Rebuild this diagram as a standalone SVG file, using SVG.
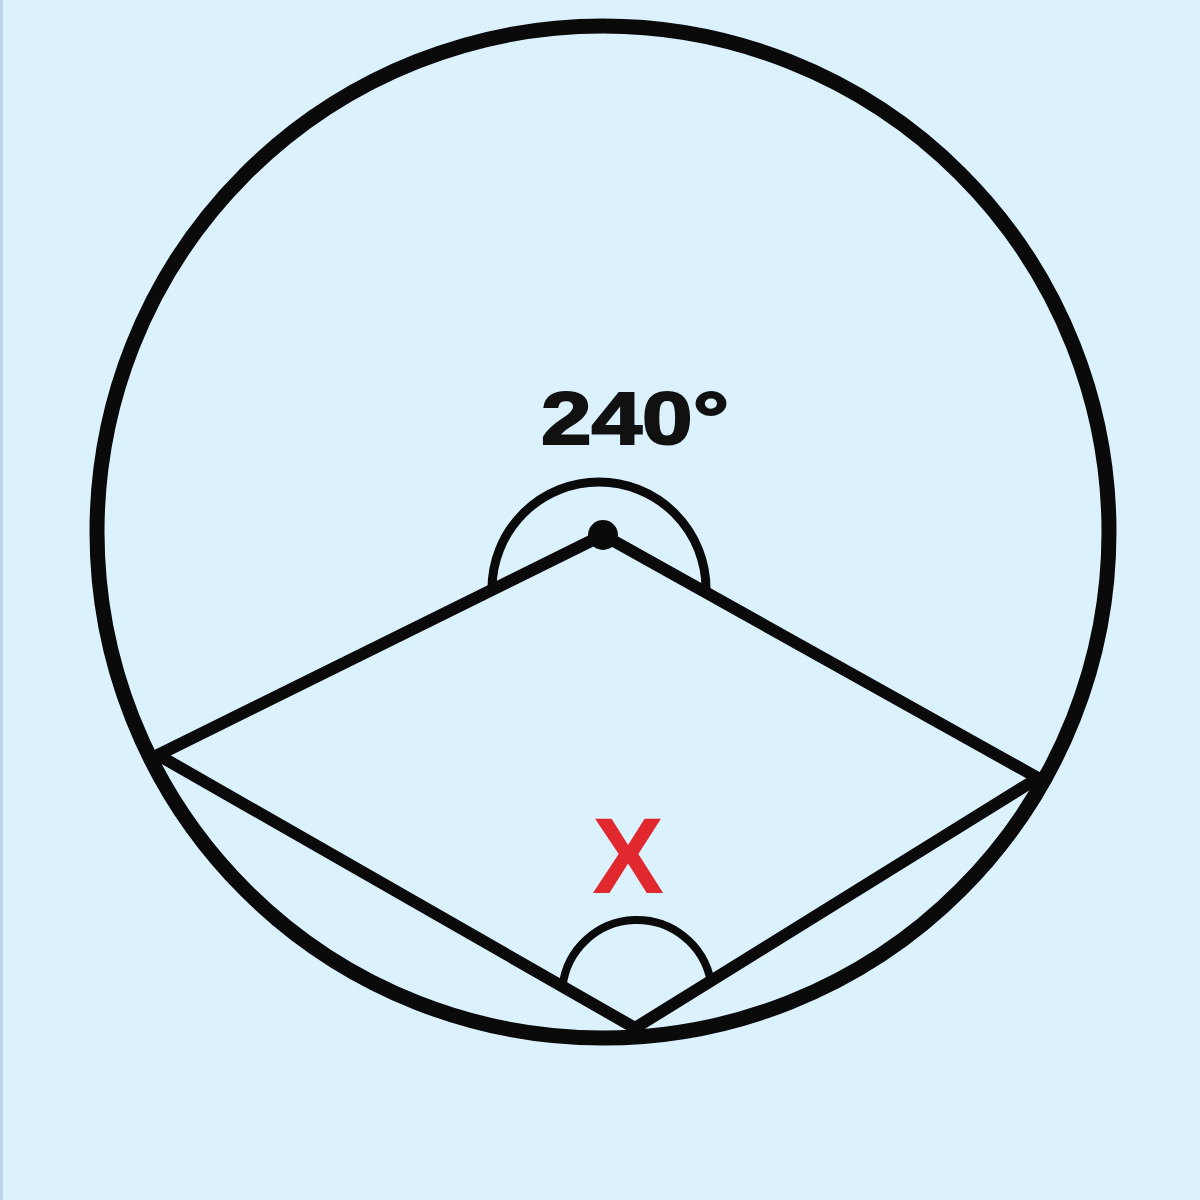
<svg xmlns="http://www.w3.org/2000/svg" width="1200" height="1200" viewBox="0 0 1200 1200">
<style>
.stk{fill:none;stroke:#0a0a0a;stroke-linecap:round;stroke-linejoin:round}
.lbl{font-family:"Liberation Sans",Arial,sans-serif;font-weight:bold}
</style>
<rect width="1200" height="1200" fill="#DBF2FD"/>
<rect x="0" y="0" width="3" height="1200" fill="#B9D6E6"/>
<g id="circle">
<circle class="stk" cx="603" cy="532" r="506" stroke-width="15"/>
</g>
<g id="connectors">
<polyline class="stk" points="158,755 603,535 1038,778" stroke-width="12"/>
<polyline class="stk" points="158,755 635,1028 1038,778" stroke-width="12"/>
</g>
<g id="center-angle">
<path class="stk" d="M492,589 A107,107 0 0 1 706,589" stroke-width="9"/>
<circle cx="603" cy="535" r="15" fill="#0a0a0a"/>
<text class="lbl" x="541" y="444" font-size="74" fill="#111" stroke="#111" stroke-width="2" textLength="188" lengthAdjust="spacingAndGlyphs">240°</text>
</g>
<g id="inscribed-angle">
<path class="stk" d="M562.5,986.5 A75,75 0 0 1 710.7,981" stroke-width="8"/>
<text class="lbl" x="628" y="893" font-size="108" fill="#E0282E" text-anchor="middle">X</text>
</g>
</svg>
